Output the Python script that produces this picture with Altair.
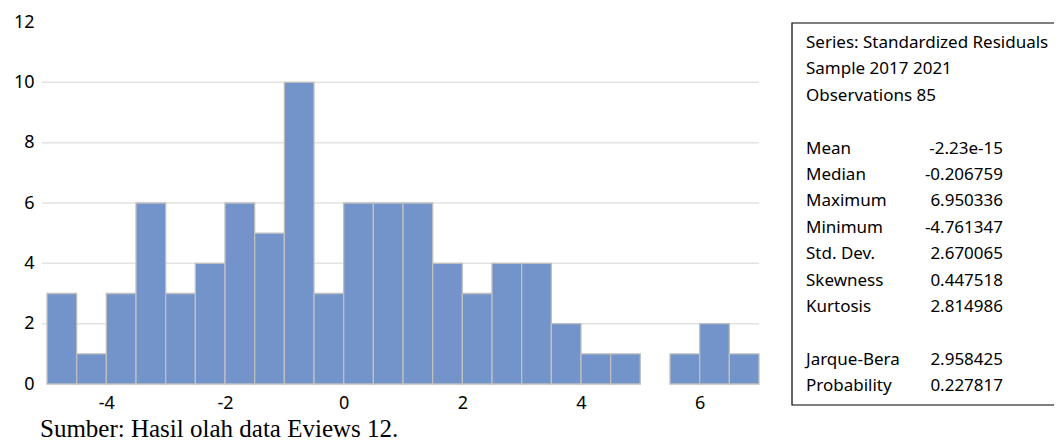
import altair as alt
import pandas as pd

# Histogram data (bin width 0.5)
bin_start = [-5.0, -4.5, -4.0, -3.5, -3.0, -2.5, -2.0, -1.5, -1.0, -0.5,
             0.0, 0.5, 1.0, 1.5, 2.0, 2.5, 3.0, 3.5, 4.0, 4.5, 5.0, 5.5, 6.0, 6.5]
counts = [3, 1, 3, 6, 3, 4, 6, 5, 10, 3,
          6, 6, 6, 4, 3, 4, 4, 2, 1, 1, 0, 1, 2, 1]
bin_width = 0.5

x_ticks = [-4, -2, 0, 2, 4, 6]
y_ticks = [0, 2, 4, 6, 8, 10, 12]
grid_vals = [2, 4, 6, 8, 10]

stat_labels = ["Series: Standardized Residuals", "Sample 2017 2021", "Observations 85", "",
               "Mean", "Median", "Maximum", "Minimum", "Std. Dev.", "Skewness", "Kurtosis", "",
               "Jarque-Bera", "Probability"]
stat_values = ["", "", "", "",
               "-2.23e-15", "-0.206759", "6.950336", "-4.761347", "2.670065", "0.447518", "2.814986", "",
               "2.958425", "0.227817"]
caption = "Sumber: Hasil olah data Eviews 12."

W, H = 712, 362
FONT = "Noto Sans"
LINE_H = 26.4
TOP = 26

df = pd.DataFrame({"start": bin_start, "count": counts})
df["end"] = df["start"] + bin_width
df = df[df["count"] > 0]

xscale = alt.Scale(domain=[-5, 7], nice=False, zero=False)
yscale = alt.Scale(domain=[0, 12], nice=False)

yaxis = alt.Axis(values=y_ticks, ticks=False, domain=False, grid=False,
                 labelFontSize=18, labelFont=FONT, labelColor="#000000",
                 labelPadding=13, labelExpr="datum.value")

grid = alt.Chart(pd.DataFrame({"g": grid_vals})).mark_rule(color="#E3E3E3", strokeWidth=1.5).encode(
    y=alt.Y("g:Q", scale=yscale, axis=yaxis, title=None),
    x=alt.value(-5), x2=alt.value(W),
)

bars = alt.Chart(df).mark_rect(color="#7394CB", stroke="#BFBFBF", strokeWidth=1.3).encode(
    x=alt.X("start:Q", scale=xscale, title=None,
            axis=alt.Axis(values=x_ticks, ticks=False, domain=False, grid=False,
                          labelFontSize=18, labelFont=FONT, labelColor="#000000",
                          labelPadding=10, labelExpr="datum.value")),
    x2="end:Q",
    y=alt.Y("count:Q", scale=yscale, title=None, axis=yaxis),
    y2=alt.datum(0),
)

box = alt.Chart(pd.DataFrame({"a": [0]})).mark_rect(fill="white", stroke="#000000", strokeWidth=1.2).encode(
    x=alt.value(745), x2=alt.value(1030), y=alt.value(1), y2=alt.value(383),
)

layers = [grid, bars, box]
for i, (lab, val) in enumerate(zip(stat_labels, stat_values)):
    ypos = TOP + i * LINE_H
    if lab:
        layers.append(alt.Chart(pd.DataFrame({"t": [lab]})).mark_text(
            align="left", baseline="alphabetic", fontSize=17, font=FONT, color="#000000").encode(
            text="t:N", x=alt.value(759), y=alt.value(ypos)))
    if val:
        layers.append(alt.Chart(pd.DataFrame({"t": [val]})).mark_text(
            align="right", baseline="alphabetic", fontSize=17, font=FONT, color="#000000").encode(
            text="t:N", x=alt.value(956), y=alt.value(ypos)))

cap = alt.Chart(pd.DataFrame({"t": [caption]})).mark_text(
    align="left", baseline="alphabetic", fontSize=25, font="Liberation Serif", color="#000000").encode(
    text="t:N", x=alt.value(-7), y=alt.value(415))
layers.append(cap)

chart = alt.layer(*layers).properties(
    width=W, height=H,
    autosize=alt.AutoSizeParams(type="none"),
    padding={"left": 39, "top": 14, "right": 295, "bottom": 60},
).configure_view(stroke=None)

chart.save("out.html", embed_options={"renderer": "svg", "actions": False})
